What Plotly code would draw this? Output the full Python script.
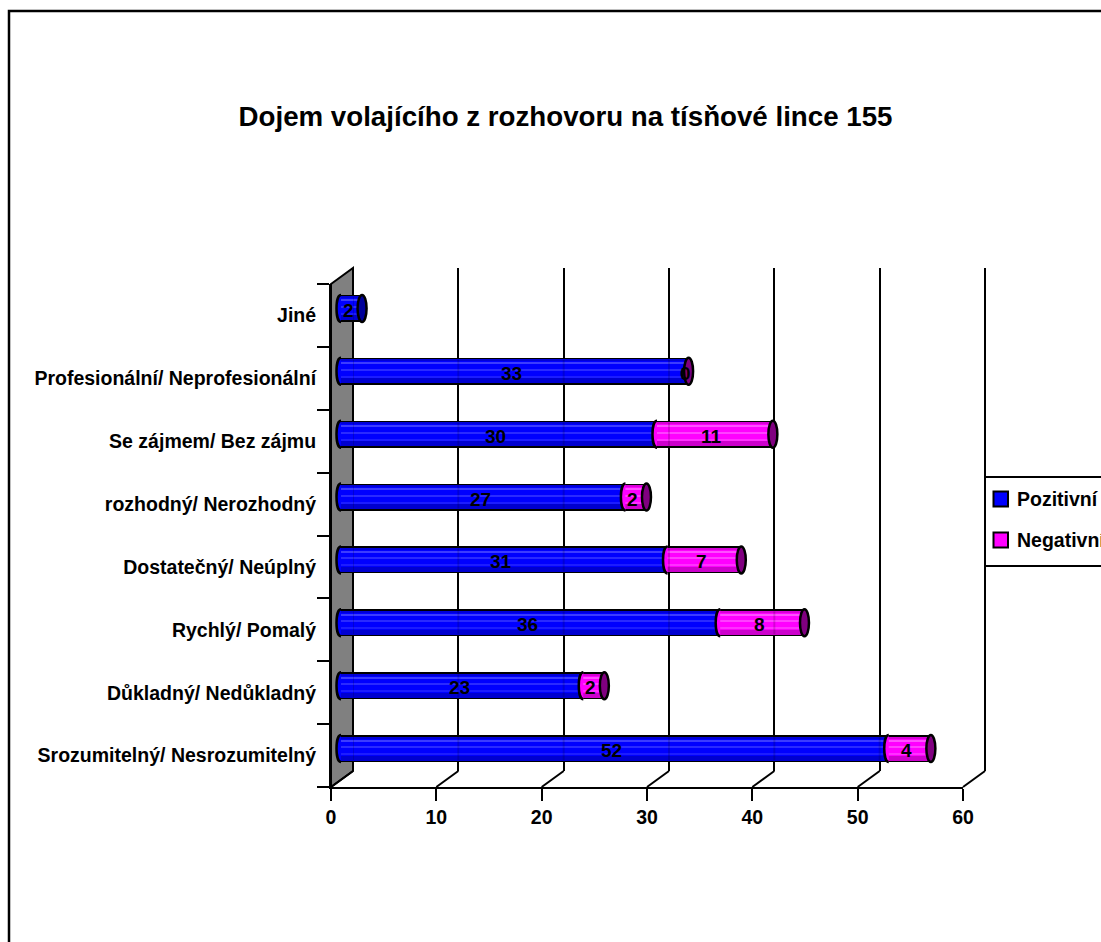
import plotly.graph_objects as go

categories = [
    "Srozumitelný/ Nesrozumitelný",
    "Důkladný/ Nedůkladný",
    "Rychlý/ Pomalý",
    "Dostatečný/ Neúplný",
    "rozhodný/ Nerozhodný",
    "Se zájmem/ Bez zájmu",
    "Profesionální/ Neprofesionální",
    "Jiné",
]
pozitivni = [52, 23, 36, 31, 27, 30, 33, 2]
negativni = [4, 2, 8, 7, 2, 11, 0, None]
x_ticks = [0, 10, 20, 30, 40, 50, 60]
series_names = ["Pozitivní", "Negativní"]

TITLE = "Dojem volajícího z rozhovoru na tísňové lince 155"
FONT = "Liberation Sans, Arial, sans-serif"
W, H = 1101, 942

# Page geometry of the pseudo-3D box, in pixels
FRONT_L, FRONT_R, FRONT_T, FRONT_B = 331, 963, 284, 787
DEPTH_X, DEPTH_Y = 22, 16
PX_PER_UNIT = (FRONT_R - FRONT_L) / 60
BAR_DX, BAR_DY = 10, 7
BAND_PX = (FRONT_B - FRONT_T) / len(categories)
BAR_HALF = 13.5
CAT_RANGE = [-0.5, len(categories) - 0.5]
BLUE, MAGENTA = "#0000ff", "#ff00ff"


def fx(px):
    return px / W


def fy(px):
    return 1 - px / H


def stripe(top, bottom):
    """Offset and width of a stripe given pixel rows relative to the bar centre."""
    return -bottom / BAND_PX, (bottom - top) / BAND_PX


# Horizontal shading bands that give the bars their cylinder look
STRIPES = [
    (-12, -10, "#0000d8", "#d800d8"),
    (-9, -7, "#3c3cff", "#ff50ff"),
    (-2, -1, "#2a2aff", "#ff40ff"),
    (5, 6, "#1c1cff", "#ff30ff"),
    (7, 12, "#0000d0", "#cc00cc"),
]

fig = go.Figure()

# Invisible traces make the front and back axes carry the same categories
for xa, ya in (("x", "y"), ("x2", "y2")):
    fig.add_trace(go.Scatter(x=[0] * len(categories), y=categories, mode="markers",
                             marker=dict(opacity=0), xaxis=xa, yaxis=ya,
                             showlegend=False, hoverinfo="skip"))

# Black silhouette of each bar, then the coloured body inside it
outline_w = 2 * BAR_HALF / BAND_PX
body_w = 2 * (BAR_HALF - 2) / BAND_PX
totals = [p + (n or 0) for p, n in zip(pozitivni, negativni)]
fig.add_trace(go.Bar(y=categories, x=totals, base=[0] * len(categories), orientation="h",
                     width=outline_w, marker=dict(color="black", line=dict(width=0)),
                     xaxis="x3", yaxis="y3", showlegend=False, hoverinfo="skip"))
fig.add_trace(go.Bar(y=categories, x=pozitivni, base=[0] * len(categories), orientation="h",
                     name=series_names[0], width=body_w,
                     marker=dict(color=BLUE, line=dict(width=0)),
                     xaxis="x3", yaxis="y3", showlegend=False, hoverinfo="skip"))
fig.add_trace(go.Bar(y=categories, x=negativni, base=pozitivni, orientation="h",
                     name=series_names[1], width=body_w,
                     marker=dict(color=MAGENTA, line=dict(width=0)),
                     xaxis="x3", yaxis="y3", showlegend=False, hoverinfo="skip"))

for top, bottom, blue, pink in STRIPES:
    off, wid = stripe(top, bottom)
    fig.add_trace(go.Bar(y=categories, x=pozitivni, base=[0] * len(categories), orientation="h",
                         offset=off, width=wid, marker=dict(color=blue, line=dict(width=0)),
                         xaxis="x3", yaxis="y3", showlegend=False, hoverinfo="skip"))
    fig.add_trace(go.Bar(y=categories, x=negativni, base=pozitivni, orientation="h",
                         offset=off, width=wid, marker=dict(color=pink, line=dict(width=0)),
                         xaxis="x3", yaxis="y3", showlegend=False, hoverinfo="skip"))

shapes = []

# Side wall of the box
shapes.append(dict(type="path", xref="paper", yref="paper", layer="below",
                   path=(f"M {fx(FRONT_L)} {fy(FRONT_T)} L {fx(FRONT_L + DEPTH_X)} {fy(FRONT_T - DEPTH_Y)} "
                         f"L {fx(FRONT_L + DEPTH_X)} {fy(FRONT_B - DEPTH_Y)} L {fx(FRONT_L)} {fy(FRONT_B)} Z"),
                   fillcolor="#808080", line=dict(color="black", width=2)))

# Slanted floor lines joining the front ticks to the back wall
for t in x_ticks:
    px = FRONT_L + t * PX_PER_UNIT
    shapes.append(dict(type="line", xref="paper", yref="paper", layer="below",
                       x0=fx(px), y0=fy(FRONT_B), x1=fx(px + DEPTH_X), y1=fy(FRONT_B - DEPTH_Y),
                       line=dict(color="black", width=2)))

# Right-hand back gridline, which sits on the edge of its axis domain
shapes.append(dict(type="line", xref="paper", yref="paper", layer="below",
                   x0=fx(FRONT_R + DEPTH_X), x1=fx(FRONT_R + DEPTH_X),
                   y0=fy(FRONT_B - DEPTH_Y), y1=fy(FRONT_T - DEPTH_Y),
                   line=dict(color="black", width=2)))

# Outer frame of the chart, running off the page on the right and bottom
shapes.append(dict(type="rect", xref="paper", yref="paper", layer="below",
                   x0=fx(9), x1=fx(W + 20), y0=fy(H + 20), y1=fy(11),
                   line=dict(color="black", width=2.5)))

# Back-wall gridlines showing faintly through the bars
y_gap = DEPTH_Y - BAR_DY
for cat, total in zip(categories, totals):
    for t in x_ticks:
        wall_value = t + (DEPTH_X - BAR_DX) / PX_PER_UNIT
        if wall_value < total:
            shapes.append(dict(type="line", xref="x2", yref="y2", layer="above",
                               x0=t, x1=t, ysizemode="pixel", yanchor=cat,
                               y0=-y_gap - 11.5, y1=-y_gap + 11.5,
                               line=dict(color="rgba(0,0,0,0.16)", width=2)))


def front_curve(anchor, cat, colour):
    # Left half of the ellipse where a segment begins
    arc = f"M 0 {BAR_HALF} C -6 {BAR_HALF} -6 {-BAR_HALF} 0 {-BAR_HALF}"
    return dict(type="path", xref="x3", yref="y3", layer="above", xsizemode="pixel",
                ysizemode="pixel", xanchor=anchor, yanchor=cat, path=arc,
                fillcolor=colour, line=dict(color="black", width=2.5))


def end_cap(anchor, cat, colour):
    # Full ellipse closing the far end of a bar
    return dict(type="circle", xref="x3", yref="y3", layer="above", xsizemode="pixel",
                ysizemode="pixel", xanchor=anchor, yanchor=cat, x0=-4.5, x1=4.5,
                y0=-BAR_HALF, y1=BAR_HALF, fillcolor=colour, line=dict(color="black", width=2.5))


annotations = []


def value_label(mid, cat, value):
    return dict(x=mid, y=cat, xref="x3", yref="y3", text=str(value), showarrow=False,
                xshift=-3, yshift=-2,
                font=dict(family=FONT, size=19, color="black", weight=700))


for cat, pos, neg in zip(categories, pozitivni, negativni):
    shapes.append(front_curve(0, cat, BLUE))
    annotations.append(value_label(pos / 2, cat, pos))
    if neg is None:
        shapes.append(end_cap(pos, cat, "#00009a"))
    else:
        if neg > 0:
            shapes.append(front_curve(pos, cat, MAGENTA))
        shapes.append(end_cap(pos + neg, cat, "#800080"))
        annotations.append(value_label(pos + neg / 2, cat, neg))

tick_font = dict(family=FONT, size=19.5, color="black", weight=700)

# Legend box, drawn by hand so that it can run off the right edge of the page
shapes.append(dict(type="rect", xref="paper", yref="paper", layer="above",
                   x0=fx(985), x1=fx(W + 20), y0=fy(566), y1=fy(477),
                   fillcolor="white", line=dict(color="black", width=2)))
for name, colour, row in zip(series_names, (BLUE, MAGENTA), (499, 540)):
    shapes.append(dict(type="rect", xref="paper", yref="paper", layer="above",
                       x0=fx(993.5), x1=fx(1008), y0=fy(row + 7.5), y1=fy(row - 7.5),
                       fillcolor=colour, line=dict(color="black", width=2)))
    annotations.append(dict(x=fx(1015), y=fy(row), xref="paper", yref="paper", text=name,
                            xanchor="left", yanchor="middle", showarrow=False, font=tick_font))

hidden_y = dict(type="category", categoryorder="array", categoryarray=categories,
                range=CAT_RANGE, showticklabels=False, ticks="", showline=False,
                showgrid=False, zeroline=False, automargin=False)

fig.update_layout(
    width=W, height=H, autosize=False, margin=dict(l=0, r=0, t=0, b=0),
    paper_bgcolor="white", plot_bgcolor="rgba(0,0,0,0)", barmode="overlay", bargap=0,
    showlegend=False,
    title=dict(text=TITLE, x=fx(565.5), xanchor="center", y=fy(116), yanchor="middle",
               font=dict(family=FONT, size=27.7, color="black", weight=700)),
    shapes=shapes, annotations=annotations,
    xaxis=dict(domain=[fx(FRONT_L), fx(FRONT_R)], range=[0, 60], tickvals=x_ticks, anchor="y",
               ticks="outside", ticklen=12, tickwidth=2, tickcolor="black", showgrid=False,
               zeroline=False, showline=True, linecolor="black", linewidth=2,
               tickfont=tick_font, automargin=False),
    yaxis=dict(domain=[fy(FRONT_B), fy(FRONT_T)], type="category", categoryorder="array",
               categoryarray=categories, range=CAT_RANGE, anchor="x", tickson="boundaries",
               ticks="outside", ticklen=12, tickwidth=2, tickcolor="black", showgrid=False,
               zeroline=False, showline=True, linecolor="black", linewidth=2,
               tickfont=tick_font, ticklabelstandoff=9, automargin=False),
    xaxis2=dict(domain=[fx(FRONT_L + DEPTH_X), fx(FRONT_R + DEPTH_X)], range=[0, 60],
                tickvals=x_ticks, anchor="y2", showticklabels=False, ticks="", showline=False,
                showgrid=True, gridcolor="black", gridwidth=2, zeroline=False, automargin=False),
    yaxis2=dict(domain=[fy(FRONT_B - DEPTH_Y), fy(FRONT_T - DEPTH_Y)], anchor="x2", **hidden_y),
    xaxis3=dict(domain=[fx(FRONT_L + BAR_DX - PX_PER_UNIT), fx(FRONT_R + BAR_DX)], range=[-1, 60],
                anchor="y3", visible=False, automargin=False),
    yaxis3=dict(domain=[fy(FRONT_B - BAR_DY), fy(FRONT_T - BAR_DY)], anchor="x3", **hidden_y),
)

fig.write_html("out.html")
